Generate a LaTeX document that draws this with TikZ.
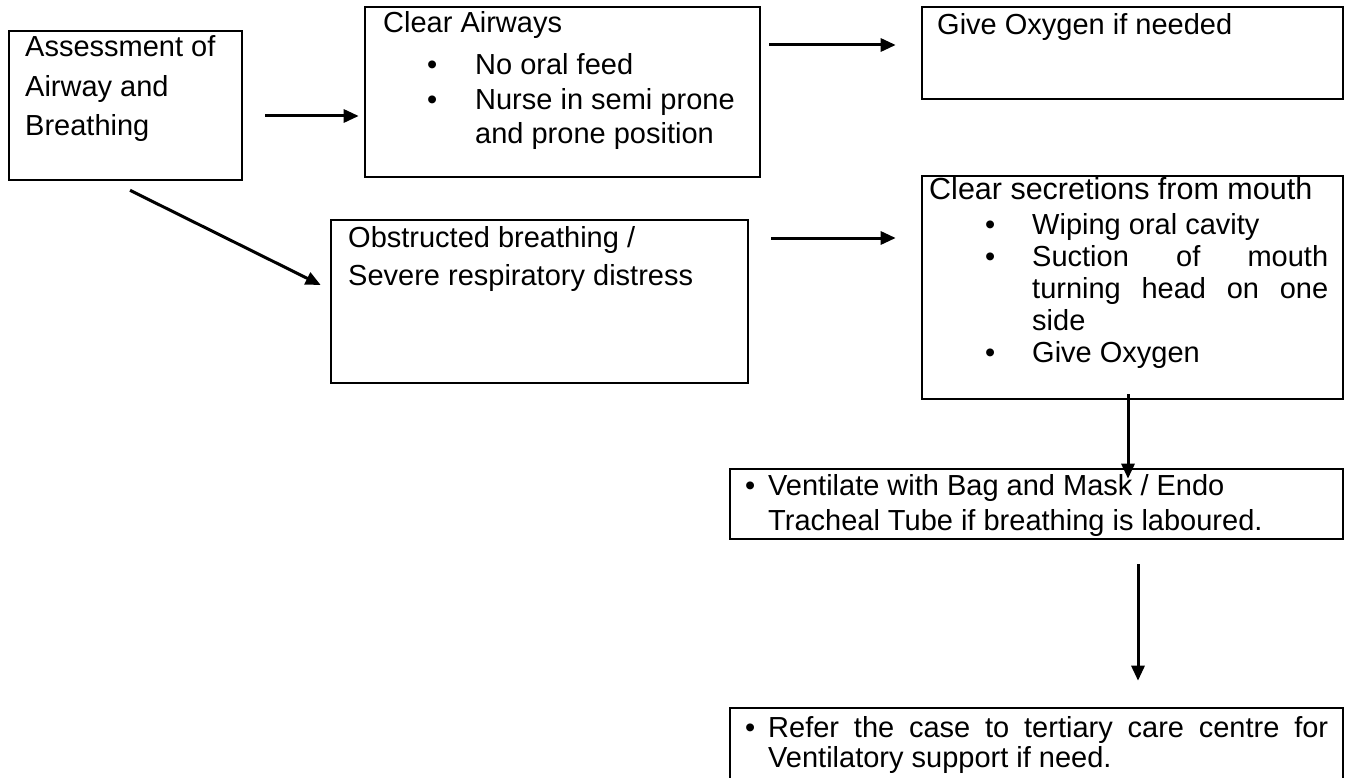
\documentclass[tikz,border=0pt]{standalone}
\usepackage{fontspec}
\setmainfont{Liberation Sans}
\usetikzlibrary{arrows.meta}
\newcommand{\bulitem}[2]{\leavevmode\hspace*{#1}\makebox[0pt]{\textbullet}\hspace*{\dimexpr#2-#1\relax}}
\newcommand{\hangbul}{\leavevmode\llap{\makebox[0pt]{\textbullet}\hspace{18pt}}}
\begin{document}
\begin{tikzpicture}[x=1pt,y=-1pt,
  box/.style={draw=black, line width=2.6pt, rectangle, inner sep=0pt},
  txt/.style={anchor=base west, inner sep=0pt},
  flow/.style={line width=3pt, -{Triangle[length=15pt,width=13pt]}},
]
\useasboundingbox (0,0) rectangle (1346,778);
\fill[white] (0,0) rectangle (1346,778);

% boxes
\node[box, minimum width=233pt, minimum height=149pt] (assess) at (125.5,105.5) {};
\node[box, minimum width=395pt, minimum height=170pt] (clear) at (562.5,92) {};
\node[box, minimum width=421pt, minimum height=92pt] (oxy) at (1132.5,53) {};
\node[box, minimum width=417pt, minimum height=163pt] (obst) at (539.5,301.5) {};
\node[box, minimum width=421pt, minimum height=223pt] (secr) at (1132.5,287.5) {};
\node[box, minimum width=613pt, minimum height=70pt] (vent) at (1036.5,504) {};
\node[box, minimum width=613pt, minimum height=92pt] (refer) at (1036.5,754) {};

% texts
\node[txt] (assessT) at (25,57) {\begin{minipage}[t]{215pt}\fontsize{29}{39.5}\selectfont
Assessment of\\Airway and\\Breathing\end{minipage}};

\node[txt] (clearT) at (383,33) {\begin{minipage}[t]{375pt}\fontsize{29}{34.5}\selectfont
Clear Airways\\[7.5pt]
\bulitem{49pt}{92pt}No oral feed\\
\bulitem{49pt}{92pt}Nurse in semi prone\\
\hspace*{92pt}and prone position\end{minipage}};

\node[txt] (oxyT) at (937,35) {\fontsize{29}{34}\selectfont Give Oxygen if needed};

\node[txt] (obstT) at (348,247) {\begin{minipage}[t]{390pt}\fontsize{29}{38}\selectfont
Obstructed breathing /\\Severe respiratory distress\end{minipage}};

\node[txt] (secrT) at (929,200) {\begin{minipage}[t]{410pt}\fontsize{29}{32}\selectfont
{\fontsize{30.5}{32}\selectfont Clear secretions from mouth}\\[3pt]
\bulitem{61pt}{103pt}Wiping oral cavity\\
\bulitem{61pt}{103pt}\makebox[296pt][s]{Suction of mouth}\\
\hspace*{103pt}\makebox[296pt][s]{turning head on one}\\
\hspace*{103pt}side\\
\bulitem{61pt}{103pt}Give Oxygen\end{minipage}};

\node[txt] (ventT) at (768,495) {\begin{minipage}[t]{570pt}\fontsize{29}{35}\selectfont
\hangbul Ventilate with Bag and Mask / Endo\\
Tracheal Tube if breathing is laboured.\end{minipage}};

\node[txt] (referT) at (768,737) {\begin{minipage}[t]{570pt}\fontsize{29}{30}\selectfont
\hangbul\makebox[560pt][s]{Refer the case to tertiary care centre for}\\
Ventilatory support if need.\end{minipage}};

% connectors
\draw[flow] ([xshift=22pt,yshift=-10.5pt]assess.east) -- ([xshift=-5pt,yshift=-24pt]clear.west);
\draw[flow] ([xshift=8pt,yshift=47pt]clear.east) -- ([xshift=-25pt,yshift=8pt]oxy.west);
\draw[flow] ([xshift=4.5pt,yshift=-9pt]assess.south) -- ([xshift=-9pt,yshift=16.5pt]obst.west);
\draw[flow] ([xshift=22pt,yshift=63.5pt]obst.east) -- ([xshift=-25pt,yshift=49.5pt]secr.west);
\draw[flow] ([xshift=-4.5pt,yshift=6pt]secr.south) -- ([xshift=91.5pt,yshift=-11pt]vent.north);
\draw[flow] ([xshift=101.5pt,yshift=-24pt]vent.south) -- ([xshift=101.5pt,yshift=26pt]refer.north);
\end{tikzpicture}
\end{document}
